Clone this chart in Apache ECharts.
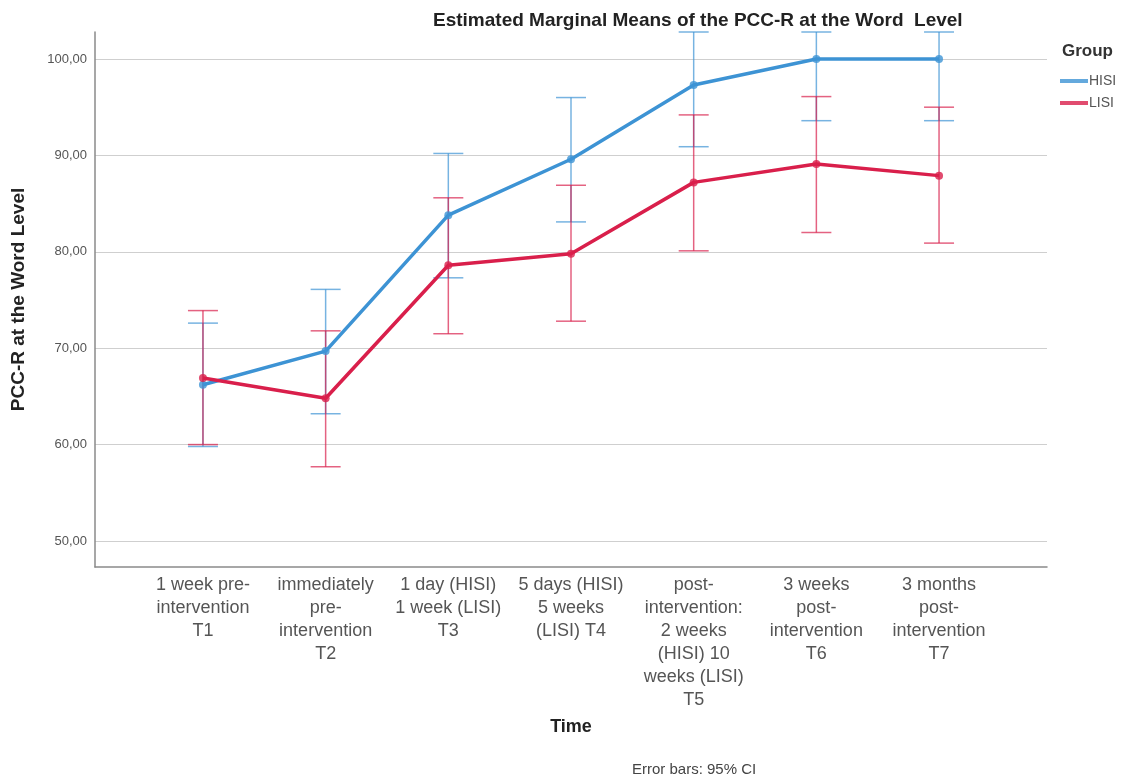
<!DOCTYPE html>
<html>
<head>
<meta charset="utf-8">
<script src="https://cdn.jsdelivr.net/npm/echarts@6/dist/echarts.min.js"></script>
<style>html,body{margin:0;padding:0;background:#fff}#c{width:1122px;height:778px}</style>
</head>
<body>
<div id="c"></div>
<script>
const categories = [
  '1 week pre-\nintervention\nT1',
  'immediately\npre-\nintervention\nT2',
  '1 day (HISI)\n1 week (LISI)\nT3',
  '5 days (HISI)\n5 weeks\n(LISI) T4',
  'post-\nintervention:\n2 weeks\n(HISI) 10\nweeks (LISI)\nT5',
  '3 weeks\npost-\nintervention\nT6',
  '3 months\npost-\nintervention\nT7'
];
const hisiMean = [66.2, 69.7, 83.8, 89.6, 97.3, 100.0, 100.0];
const hisiLow  = [59.8, 63.2, 77.3, 83.1, 90.9, 93.6, 93.6];
const hisiHigh = [72.6, 76.1, 90.2, 96.0, 103.7, 106.4, 106.4];
const lisiMean = [66.9, 64.8, 78.6, 79.8, 87.2, 89.1, 87.9];
const lisiLow  = [60.0, 57.7, 71.5, 72.8, 80.1, 82.0, 80.9];
const lisiHigh = [73.9, 71.8, 85.6, 86.9, 94.2, 96.1, 95.0];
const yTicks = [50, 60, 70, 80, 90, 100];

const Y_MIN = 47.3, Y_MAX = 102.8;
const X_MIN = -0.88, X_MAX = 6.88;
const BLUE = '#3d93d4', RED = '#d91f4b';
const FONT = 'Liberation Sans, Arial, sans-serif';

function pts(arr) { return arr.map((v, i) => [i, v]); }
function ci(lo, hi) { return lo.map((v, i) => [i, v, hi[i]]); }

function errRender(color) {
  return function (params, api) {
    const x = api.value(0);
    const lo = Math.max(api.value(1), Y_MIN);
    const hi = Math.min(api.value(2), Y_MAX);
    const pLo = api.coord([x, lo]);
    const pHi = api.coord([x, hi]);
    const hw = 15;
    const style = { stroke: color, lineWidth: 1.5, opacity: 0.7 };
    return {
      type: 'group',
      children: [
        { type: 'line', shape: { x1: pLo[0], y1: pLo[1], x2: pHi[0], y2: pHi[1] }, style },
        { type: 'line', shape: { x1: pLo[0] - hw, y1: pLo[1], x2: pLo[0] + hw, y2: pLo[1] }, style },
        { type: 'line', shape: { x1: pHi[0] - hw, y1: pHi[1], x2: pHi[0] + hw, y2: pHi[1] }, style }
      ]
    };
  };
}

const chart = echarts.init(document.getElementById('c'), null, { renderer: 'canvas' });
chart.setOption({
  animation: false,
  backgroundColor: '#fff',
  textStyle: { fontFamily: FONT },
  title: [
    { text: 'Estimated Marginal Means of the PCC-R at the Word  Level', left: 428, top: 6,
      textStyle: { fontSize: 19, fontWeight: 'bold', color: '#222', fontFamily: FONT } },
    { text: 'Group', left: 1057, top: 38,
      textStyle: { fontSize: 17, fontWeight: 'bold', color: '#333', fontFamily: FONT } },
    { text: 'Error bars: 95% CI', left: 627, top: 757,
      textStyle: { fontSize: 15, fontWeight: 'normal', color: '#444', fontFamily: FONT } }
  ],
  legend: {
    data: ['HISI', 'LISI'],
    orient: 'vertical',
    left: 1055, top: 69,
    icon: 'rect',
    itemWidth: 28, itemHeight: 4, itemGap: 8,
    textStyle: { fontSize: 14, color: '#555', fontFamily: FONT, padding: [0, 0, 0, -4] }
  },
  grid: { left: 95, right: 75, top: 32, bottom: 211, containLabel: false, outerBoundsMode: 'none' },
  xAxis: {
    type: 'value', min: X_MIN, max: X_MAX, minInterval: 1, maxInterval: 1,
    name: 'Time', nameLocation: 'middle', nameGap: 151,
    nameTextStyle: { fontSize: 18, fontWeight: 'bold', color: '#222', fontFamily: FONT },
    axisLine: { show: true, onZero: false, lineStyle: { color: '#8a8a8a', width: 1.5 } },
    axisTick: { show: false },
    splitLine: { show: false },
    axisLabel: {
      showMinLabel: false, showMaxLabel: false,
      fontSize: 18, lineHeight: 23, color: '#555', margin: 7, fontFamily: FONT,
      formatter: v => (Number.isInteger(v) && v >= 0 && v < categories.length) ? categories[v] : ''
    }
  },
  yAxis: {
    type: 'value', min: Y_MIN, max: Y_MAX, minInterval: 10, maxInterval: 10,
    name: 'PCC-R at the Word Level', nameLocation: 'middle', nameGap: 67, nameRotate: 90,
    nameTextStyle: { fontSize: 19, fontWeight: 'bold', color: '#222', fontFamily: FONT },
    axisLine: { show: true, onZero: false, lineStyle: { color: '#8a8a8a', width: 1.5 } },
    axisTick: { show: false },
    splitLine: { show: true, showMinLine: false, showMaxLine: false, lineStyle: { color: '#cfcfcf', width: 1.2 } },
    axisLabel: {
      showMinLabel: false, showMaxLabel: false,
      fontSize: 13, color: '#555', margin: 8, fontFamily: FONT,
      formatter: v => yTicks.indexOf(Math.round(v * 10) / 10) >= 0 ? v.toFixed(2).replace('.', ',') : ''
    }
  },
  series: [
    { name: 'HISI CI', type: 'custom', renderItem: errRender(BLUE), data: ci(hisiLow, hisiHigh), z: 2, silent: true, clip: false },
    { name: 'LISI CI', type: 'custom', renderItem: errRender(RED), data: ci(lisiLow, lisiHigh), z: 2, silent: true, clip: false },
    { name: 'HISI', type: 'line', data: pts(hisiMean), color: BLUE, z: 3,
      lineStyle: { width: 3.5, color: BLUE }, symbol: 'circle', symbolSize: 8,
      itemStyle: { color: BLUE, opacity: 0.8 } },
    { name: 'LISI', type: 'line', data: pts(lisiMean), color: RED, z: 4,
      lineStyle: { width: 3.5, color: RED }, symbol: 'circle', symbolSize: 8,
      itemStyle: { color: RED, opacity: 0.8 } }
  ]
});
</script>
</body>
</html>
